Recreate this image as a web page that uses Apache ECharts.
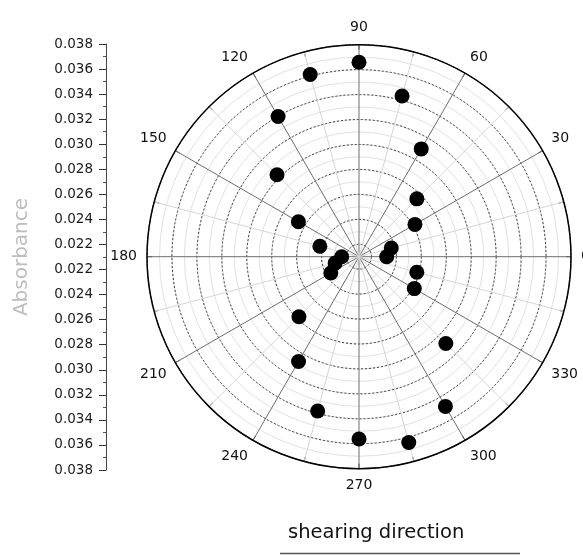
<!DOCTYPE html>
<html>
<head>
<meta charset="utf-8">
<script src="https://cdn.jsdelivr.net/npm/echarts@6/dist/echarts.min.js"></script>
<style>
html,body{margin:0;padding:0;background:#fff;}
#chart{width:583px;height:555px;}
</style>
</head>
<body>
<div id="chart"></div>
<script>
// shearing direction (degrees)
const angles = [0, 15, 30, 45, 60, 75, 90, 105, 120, 135, 150, 165,
                180, 195, 210, 225, 240, 255, 270, 285, 300, 315, 330, 345];
// absorbance
const absorbance = [0.02322, 0.02368, 0.02618, 0.02756, 0.03098, 0.03434, 0.03659, 0.03612, 0.03398, 0.03030, 0.02661, 0.02425,
                    0.02239, 0.02298, 0.02361, 0.02781, 0.03070, 0.03381, 0.03562, 0.03642, 0.03486, 0.03085, 0.02612, 0.02580];
// angular tick labels
const angleTickLabels = [0, 30, 60, 90, 120, 150, 180, 210, 240, 270, 300, 330];
// left absorbance scale labels, top to bottom
const absorbanceTickLabels = ['0.038', '0.036', '0.034', '0.032', '0.030', '0.028', '0.026', '0.024', '0.022',
                              '0.022', '0.024', '0.026', '0.028', '0.030', '0.032', '0.034', '0.036', '0.038'];
const radialMin = 0.021, radialMax = 0.038;

const FONT = 'DejaVu Sans';
const R = 212, CX = 359, CY = 256.7;
const toMilli = v => Math.round(v * 1e6) / 1e3;

const chart = echarts.init(document.getElementById('chart'), null, {renderer: 'canvas'});
const option = {
  animation: false,
  backgroundColor: '#ffffff',
  title: {
    text: 'shearing direction',
    left: 283, top: 518,
    textStyle: {fontFamily: FONT, fontSize: 19.5, fontWeight: 'normal', color: '#111'}
  },
  polar: [
    {center: [CX, CY], radius: [0, R]},
    {center: [CX, CY], radius: [R / ((radialMax - radialMin) * 1000), R]}
  ],
  angleAxis: [
    {
      polarIndex: 0, type: 'value', min: 0, max: 360, interval: 15,
      startAngle: 0, clockwise: false, z: 3,
      axisLine: {show: true, lineStyle: {color: '#000', width: 1.5}},
      axisTick: {show: true, inside: true, length: 5, lineStyle: {color: '#333'}},
      axisLabel: {
        margin: 10, fontFamily: FONT, fontSize: 14, color: '#111',
        formatter: v => angleTickLabels.indexOf(v) >= 0 ? String(v) : ''
      },
      splitLine: {show: true, lineStyle: {color: ['#6e6e6e', '#d6d6d6'], width: 1}}
    },
    {polarIndex: 1, type: 'value', min: 0, max: 360, startAngle: 0, clockwise: false, show: false}
  ],
  radiusAxis: [
    {
      polarIndex: 0, type: 'value', min: toMilli(radialMin), max: toMilli(radialMax), interval: 1, z: 1,
      axisLine: {show: false}, axisTick: {show: false}, axisLabel: {show: false},
      splitLine: {show: true, lineStyle: {color: '#e2e2e2', width: 1}}
    },
    {
      polarIndex: 1, type: 'value', min: 22, max: 38, interval: 2, z: 2,
      axisLine: {show: false}, axisTick: {show: false}, axisLabel: {show: false},
      splitLine: {show: true, lineStyle: {color: '#3a3a3a', width: 1, type: [2, 2]}}
    }
  ],
  grid: {left: 106, top: 44, width: 10, height: 426, outerBoundsMode: 'none'},
  xAxis: {type: 'value', show: false, min: 0, max: 1},
  yAxis: {
    type: 'value', min: 0, max: 34, interval: 2, inverse: true,
    axisLine: {show: true, lineStyle: {color: '#444', width: 1}},
    axisTick: {show: true, length: 7, lineStyle: {color: '#333'}},
    minorTick: {show: true, splitNumber: 2, length: 3, lineStyle: {color: '#555'}},
    splitLine: {show: false},
    axisLabel: {
      margin: 13, fontFamily: FONT, fontSize: 13.5, color: '#1a1a1a',
      formatter: v => absorbanceTickLabels[Math.round(v / 2)] || ''
    },
    name: 'Absorbance', nameLocation: 'middle', nameRotate: 90, nameGap: 74,
    nameTextStyle: {fontFamily: FONT, fontSize: 20, color: '#bdbdbd'}
  },
  graphic: [
    {type: 'line', shape: {x1: 280, y1: 553.5, x2: 520, y2: 553.5}, style: {stroke: '#555', lineWidth: 1.5}}
  ],
  series: [
    {
      type: 'scatter', coordinateSystem: 'polar', polarIndex: 0,
      symbol: 'circle', symbolSize: 15, z: 10,
      itemStyle: {color: '#000', opacity: 1},
      data: angles.map((a, i) => [toMilli(absorbance[i]), a])
    }
  ]
};
chart.setOption(option);
</script>
</body>
</html>
